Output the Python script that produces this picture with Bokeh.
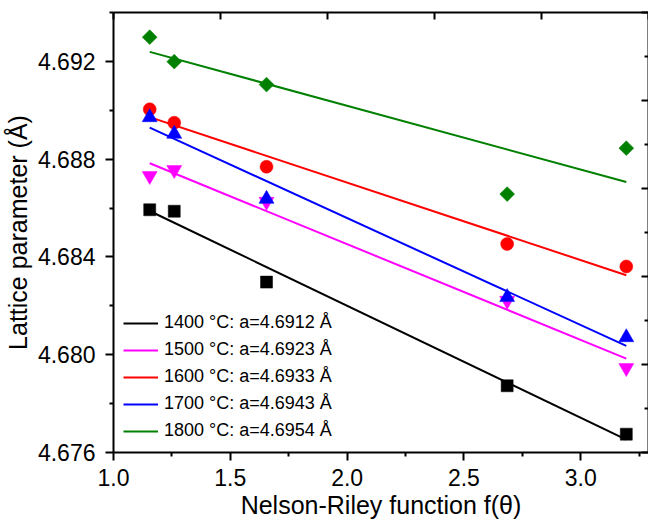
import numpy as np
from bokeh.plotting import figure
from bokeh.models import (Range1d, LinearAxis, FixedTicker, Legend, LegendItem,
                          PrintfTickFormatter, CustomLabelingPolicy)
from bokeh.embed import file_html
from bokeh.resources import INLINE

# ---- data ----
f_theta = [1.155, 1.26, 1.655, 2.685, 3.195]
a_1400 = [4.68593, 4.68587, 4.68297, 4.67873, 4.67675]
a_1500 = [4.68732, 4.68756, 4.68626, 4.68221, 4.67946]
a_1600 = [4.69004, 4.68949, 4.68769, 4.68453, 4.68361]
a_1700 = [4.68971, 4.68903, 4.68637, 4.68235, 4.68071]
a_1800 = [4.69299, 4.69199, 4.69105, 4.68657, 4.68845]

series_labels = [
    "1400 °C: a=4.6912 Å",
    "1500 °C: a=4.6923 Å",
    "1600 °C: a=4.6933 Å",
    "1700 °C: a=4.6943 Å",
    "1800 °C: a=4.6954 Å",
]
series_colors = ["#000000", "#FF00FF", "#FF0000", "#0000FF", "#008000"]

x_ticks = [1.0, 1.5, 2.0, 2.5, 3.0]
x_minor = [1.25, 1.75, 2.25, 2.75, 3.25]
y_ticks = [4.676, 4.680, 4.684, 4.688, 4.692]
y_minor = [4.678, 4.682, 4.686, 4.690, 4.694]
aux_ticks = [0, 1, 2, 3, 4, 5]
aux_minor = [0.5, 1.5, 2.5, 3.5, 4.5]

FONT = "Liberation Sans"

p = figure(
    frame_width=535, frame_height=440,
    x_range=Range1d(1.0, 3.29), y_range=Range1d(4.676, 4.694),
    output_backend="svg", toolbar_location=None,
    min_border_left=108, min_border_top=12, min_border_right=0, min_border_bottom=2,
    x_axis_label="Nelson-Riley function f(θ)",
    y_axis_label="Lattice parameter (Å)",
)
p.extra_x_ranges = {"top": Range1d(0, 5)}
p.extra_y_ranges = {"right": Range1d(0, 5)}
p.xgrid.visible = False
p.ygrid.visible = False
p.outline_line_color = None
p.background_fill_color = "white"
p.border_fill_color = "white"

series = [a_1400, a_1500, a_1600, a_1700, a_1800]
markers = [
    dict(marker="square", size=12, angle=0.0),
    dict(marker="inverted_triangle", size=15, angle=0.0),
    dict(marker="circle", size=13, angle=0.0),
    dict(marker="triangle", size=15, angle=0.0),
    dict(marker="square", size=10.5, angle=np.pi / 4),
]

items = []
xs = np.array(f_theta)
for ys, lab, col, mk in zip(series, series_labels, series_colors, markers):
    ys = np.array(ys)
    slope, icpt = np.polyfit(xs, ys, 1)
    xl = np.array([xs.min(), xs.max()])
    r = p.line(xl, slope * xl + icpt, line_color=col, line_width=2)
    p.scatter(xs, ys, marker=mk["marker"], size=mk["size"], angle=mk["angle"],
              fill_color=col, line_color=col, line_width=0.5)
    items.append(LegendItem(label=lab, renderers=[r]))

legend = Legend(items=items, location=(10, 11))
legend.label_text_font = FONT
legend.label_text_font_size = "18px"
legend.label_text_color = "black"
legend.glyph_width = 35
legend.glyph_height = 20
legend.label_height = 20
legend.spacing = 6
legend.padding = 5
legend.margin = 0
legend.label_standoff = 6
legend.border_line_color = None
legend.background_fill_alpha = 0
p.add_layout(legend)

xa = p.xaxis[0]
xa.ticker = FixedTicker(ticks=x_ticks, minor_ticks=x_minor)
xa.formatter = PrintfTickFormatter(format="%.1f")
ya = p.yaxis[0]
ya.ticker = FixedTicker(ticks=y_ticks, minor_ticks=y_minor)
ya.formatter = PrintfTickFormatter(format="%.3f")

for ax in (xa, ya):
    ax.axis_line_width = 2
    ax.major_tick_line_width = 2
    ax.minor_tick_line_width = 2
    ax.major_tick_in = 0
    ax.major_tick_out = 8
    ax.minor_tick_in = 0
    ax.minor_tick_out = 4
    ax.major_label_text_font = FONT
    ax.major_label_text_font_size = "23px"
    ax.major_label_text_color = "black"
    ax.axis_label_text_font = FONT
    ax.axis_label_text_font_size = "25px"
    ax.axis_label_text_font_style = "normal"
    ax.axis_label_text_color = "black"
xa.major_label_standoff = 8
xa.axis_label_standoff = 2
ya.major_label_standoff = 10
ya.axis_label_standoff = 3

# top and right axes (separate layers in the original: ticks inward, no labels)
no_labels = CustomLabelingPolicy(code="return []")
top = LinearAxis(x_range_name="top", ticker=FixedTicker(ticks=aux_ticks, minor_ticks=[]))
right = LinearAxis(y_range_name="right", ticker=FixedTicker(ticks=aux_ticks, minor_ticks=aux_minor))
for ax in (top, right):
    ax.axis_line_width = 2
    ax.major_tick_line_width = 2
    ax.minor_tick_line_width = 2
    ax.major_tick_in = 7
    ax.major_tick_out = 0
    ax.minor_tick_in = 4
    ax.minor_tick_out = 0
    ax.major_label_policy = no_labels
    ax.major_label_text_font_size = "0px"
    ax.major_label_standoff = 0
p.add_layout(top, "above")
p.add_layout(right, "right")

open("out.html", "w").write(file_html(p, INLINE))
